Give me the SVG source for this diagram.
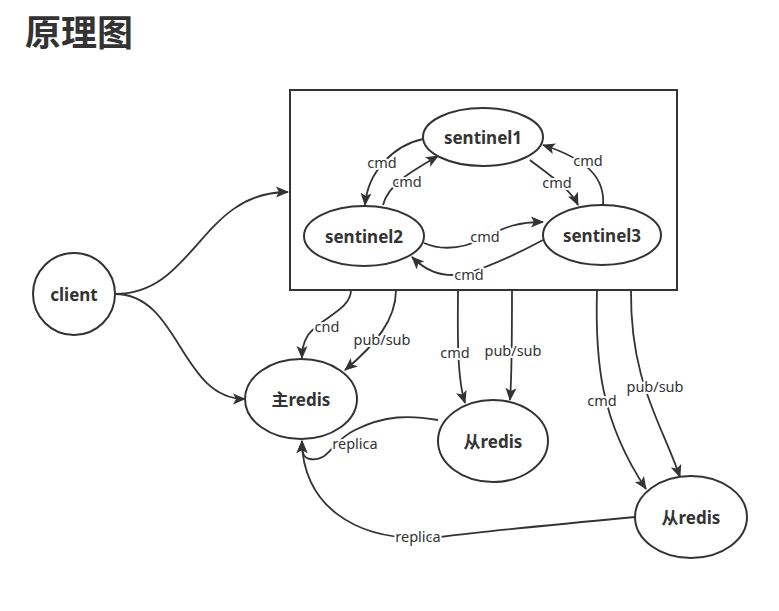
<svg xmlns="http://www.w3.org/2000/svg" width="779" height="611" viewBox="0 0 779 611">
<defs>
<marker id="ah" viewBox="0 0 13 12" refX="12" refY="6" markerWidth="13" markerHeight="12" markerUnits="userSpaceOnUse" orient="auto">
<path d="M0,0.5 L13,6 L0,11.5 L3,6 Z" fill="#333"/>
</marker>
<style>
.n{fill:#fff;stroke:#333;stroke-width:2}
.t{font-family:"Noto Sans","Noto Sans CJK SC",sans-serif;font-weight:bold;font-size:17px;fill:#333;text-anchor:middle;dominant-baseline:central}
.c{fill:none;stroke:#333;stroke-width:1.8;marker-end:url(#ah)}
.lb{font-family:"Noto Sans",sans-serif;font-size:14.5px;fill:#333;text-anchor:middle;dominant-baseline:central;stroke:#fff;stroke-width:4;paint-order:stroke;stroke-linejoin:round}
</style>
</defs>
<rect width="779" height="611" fill="#fff"/>
<text x="25" y="46" font-family="'Noto Sans CJK SC',sans-serif" font-weight="bold" font-size="36" fill="#333">原理图</text>

<g id="sentinels-box"><rect x="290" y="90" width="387" height="200" fill="#fff" stroke="#333" stroke-width="2"/></g>

<g id="connectors">
<path class="c" d="M115,294 C195,294 200,192 288,192"/>
<path class="c" d="M115,294 C180,294 180,399 245,399"/>
<path class="c" d="M423,139 C395,145 368,170 365,205"/>
<path class="c" d="M383,205 C388,185 410,172 438,156"/>
<path class="c" d="M530,160 C545,172 570,188 578,205"/>
<path class="c" d="M603,205 C605,180 590,160 543,145"/>
<path class="c" d="M424,243 C440,250 460,250 485,238 C505,226 520,222 543,222"/>
<path class="c" d="M543,240 C515,255 485,268 465,274 C440,278 425,270 412,257"/>
<path class="c" d="M351,290 C351,310 320,318 308,335 C302,345 302,352 302,358"/>
<path class="c" d="M396,290 C396,320 375,345 345,370"/>
<path class="c" d="M458,290 C458,320 456,375 465,403"/>
<path class="c" d="M512,290 C512,330 512,375 510,400"/>
<path class="c" d="M597,290 C595,360 600,420 646,489"/>
<path class="c" d="M631,290 C630,380 660,420 680,477"/>
<path class="c" d="M438,420 C410,415 385,415 355,430 C330,442 330,462 310,459 C302,458 302,450 302,441"/>
<path class="c" d="M635,517 C560,524 480,532 440,537 C350,545 302,500 302,441"/>
</g>
<g id="labels">
<text class="lb" x="382" y="162">cmd</text>
<text class="lb" x="407" y="181">cmd</text>
<text class="lb" x="557" y="182">cmd</text>
<text class="lb" x="588" y="160">cmd</text>
<text class="lb" x="485" y="236">cmd</text>
<text class="lb" x="469" y="274">cmd</text>
<text class="lb" x="327" y="326">cnd</text>
<text class="lb" x="382" y="339">pub/sub</text>
<text class="lb" x="455" y="352">cmd</text>
<text class="lb" x="513" y="350">pub/sub</text>
<text class="lb" x="602" y="400">cmd</text>
<text class="lb" x="655" y="386">pub/sub</text>
<text class="lb" x="355" y="443">replica</text>
<text class="lb" x="418" y="536">replica</text>
</g>

<g id="client"><circle class="n" cx="74" cy="294" r="41"/><text class="t" x="74" y="294">client</text></g>
<g id="sentinel1"><ellipse class="n" cx="483" cy="137" rx="60" ry="29"/><text class="t" x="483" y="137">sentinel1</text></g>
<g id="sentinel2"><ellipse class="n" cx="364" cy="236" rx="60" ry="30"/><text class="t" x="364" y="236">sentinel2</text></g>
<g id="sentinel3"><ellipse class="n" cx="602" cy="235" rx="59" ry="30"/><text class="t" x="602" y="235">sentinel3</text></g>
<g id="master"><ellipse class="n" cx="301" cy="399" rx="56" ry="40"/><text class="t" x="301" y="399">主redis</text></g>
<g id="slave1"><ellipse class="n" cx="493" cy="441" rx="55" ry="41"/><text class="t" x="493" y="441">从redis</text></g>
<g id="slave2"><ellipse class="n" cx="691" cy="517" rx="56" ry="41"/><text class="t" x="691" y="517">从redis</text></g>
</svg>
